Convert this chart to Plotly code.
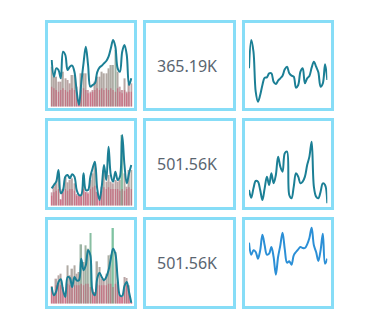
import plotly.graph_objects as go

W, H = 373, 330

# ---------------- data ----------------
idx = list(range(36))

bars_r1 = [120, 90, 90, 75, 75, 105, 85, 80, 70, 95, 95, 60, 10, 100, 100, 100, 50, 45, 50, 75,
           90, 90, 105, 100, 100, 115, 125, 125, 170, 105, 60, 50, 85, 45, 70, 70]
red_r1 = [60, 55, 50, 45, 50, 55, 50, 45, 50, 55, 50, 45, 10, 50, 55, 50, 40, 40, 45, 50,
          55, 50, 55, 50, 55, 50, 55, 50, 45, 55, 45, 40, 50, 40, 45, 45]
line_r1 = [140, 90, 115, 110, 85, 165, 155, 110, 120, 123, 105, 45, 5, 70, 130, 180, 125, 60, 65, 70,
           103, 117, 123, 130, 137, 150, 175, 200, 180, 115, 105, 165, 185, 155, 65, 85]

bars_r2 = [40, 57, 67, 97, 20, 50, 85, 70, 77, 82, 67, 35, 32, 30, 92, 42, 40, 77, 97, 125,
           42, 17, 57, 107, 72, 92, 72, 67, 77, 72, 77, 212, 97, 57, 107, 107]
red_r2 = [30, 40, 45, 50, 17, 40, 50, 45, 50, 50, 45, 30, 30, 28, 50, 40, 35, 50, 55, 60,
          40, 17, 45, 55, 50, 55, 50, 50, 50, 50, 45, 50, 45, 50, 55, 50]
line_r2 = [52, 62, 72, 107, 37, 47, 87, 92, 82, 94, 87, 47, 32, 32, 97, 47, 47, 87, 112, 132,
           52, 17, 57, 122, 77, 177, 92, 72, 102, 77, 87, 212, 122, 67, 97, 122]

bars_r3 = [53, 25, 75, 85, 90, 50, 25, 115, 85, 105, 115, 90, 95, 178, 125, 175, 165, 212, 45, 35,
           127, 110, 75, 75, 90, 145, 147, 227, 155, 65, 25, 20, 80, 77, 55, 5]
red_r3 = [45, 25, 55, 60, 55, 45, 25, 60, 55, 60, 55, 55, 55, 60, 55, 60, 60, 50, 40, 35,
          60, 55, 55, 55, 55, 60, 60, 50, 60, 55, 25, 20, 55, 55, 45, 5]
line_r3 = [50, 25, 37, 65, 73, 40, 20, 80, 77, 50, 80, 70, 70, 135, 100, 115, 160, 145, 35, 25,
           75, 93, 80, 70, 80, 100, 135, 165, 150, 75, 25, 23, 53, 65, 35, 3]

kpi_labels = ["365.19K", "501.56K", "501.56K"]

spark_r1 = [115, 200, 165, 45, 15, 35, 65, 87, 88, 100, 100, 75, 68, 78, 85, 93, 112, 120, 100, 93,
            90, 57, 65, 105, 115, 70, 85, 92, 117, 135, 120, 103, 60, 70, 127, 80]
spark_r2 = [50, 27, 55, 77, 75, 50, 20, 55, 90, 65, 100, 70, 95, 150, 120, 105, 160, 165, 35, 25,
            60, 100, 90, 70, 75, 90, 125, 150, 195, 60, 30, 25, 45, 70, 65, 10]
spark_r3 = [183, 147, 160, 155, 135, 160, 207, 175, 147, 150, 170, 140, 87, 140, 175, 213, 163, 123, 127, 117,
            145, 155, 163, 170, 167, 167, 178, 197, 228, 175, 155, 128, 160, 210, 120, 135]

# ---------------- layout geometry (pixels) ----------------
cols_px = [(45, 137), (143, 236), (242, 334)]
rows_px = [(20, 111), (118, 210), (217, 309)]

BORDER = "#87ddf7"
TEAL = "#1b7f95"
BLUE = "#2b8fd6"

def fx(p):
    return p / W

def fy(p):
    return 1 - p / H

fig = go.Figure()
layout = dict(width=W, height=H, margin=dict(l=0, r=0, t=0, b=0),
              paper_bgcolor="white", plot_bgcolor="rgba(0,0,0,0)",
              showlegend=False, barmode="overlay", bargap=0.35)

bar_sets = [(bars_r1, red_r1, line_r1), (bars_r2, red_r2, line_r2), (bars_r3, red_r3, line_r3)]
spark_sets = [spark_r1, spark_r2, spark_r3]
spark_colors = [TEAL, TEAL, BLUE]

left_params = [(15, 275, 24), (115, 272, 122), (212, 275, 221)]  # origin, base, top px
right_params = [(15, 24, 107), (115, 122, 206), (212, 221, 305)]

scale = [[0, "#c9587a"], [0.4, "#86736c"], [0.7, "#6f7f6c"], [1, "#2f9f68"]]

ax = 1
for r in range(3):
    bars, reds, line = bar_sets[r]
    oy, base, top = left_params[r]
    bot = oy + base / 3.0
    rng = [0, base - 3 * (top - oy)]
    xa = "x" if ax == 1 else f"x{ax}"
    ya = "y" if ax == 1 else f"y{ax}"
    step = (131.3 - 51.67) / 35
    layout["xaxis" if ax == 1 else f"xaxis{ax}"] = dict(
        domain=[fx(51.67 - step / 2), fx(131.3 + step / 2)], range=[-0.5, 35.5],
        visible=False, anchor=ya, fixedrange=True)
    layout["yaxis" if ax == 1 else f"yaxis{ax}"] = dict(
        domain=[fy(bot), fy(top)], range=rng, visible=False, anchor=xa, fixedrange=True)
    fig.add_trace(go.Bar(x=idx, y=bars, xaxis=xa, yaxis=ya,
                         marker=dict(color=bars, colorscale=scale, cmin=0, cmax=230,
                                     line=dict(width=0)),
                         opacity=0.62))
    fig.add_trace(go.Bar(x=idx, y=reds, xaxis=xa, yaxis=ya,
                         marker=dict(color="rgba(205,45,85,0.38)", line=dict(width=0))))
    fig.add_trace(go.Scatter(x=idx, y=line, xaxis=xa, yaxis=ya, mode="lines",
                             line=dict(color=TEAL, width=2, shape="spline", smoothing=1.0),
                             cliponaxis=False))
    ax += 1

    oy, top, bot = right_params[r]
    rng = [275 - 3 * (bot - oy), 275 - 3 * (top - oy)]
    xa = f"x{ax}"
    ya = f"y{ax}"
    layout[f"xaxis{ax}"] = dict(domain=[fx(249), fx(327.3)], range=[0, 35],
                                visible=False, anchor=ya, fixedrange=True)
    layout[f"yaxis{ax}"] = dict(domain=[fy(bot), fy(top)], range=rng,
                                visible=False, anchor=xa, fixedrange=True)
    fig.add_trace(go.Scatter(x=idx, y=spark_sets[r], xaxis=xa, yaxis=ya, mode="lines",
                             line=dict(color=spark_colors[r], width=2, shape="spline", smoothing=1.0),
                             cliponaxis=False))
    ax += 1

shapes = []
for (r0, r1) in rows_px:
    for (c0, c1) in cols_px:
        shapes.append(dict(type="rect", xref="paper", yref="paper",
                           x0=fx(c0 + 1.5), x1=fx(c1 - 1.5), y0=fy(r1 - 1.5), y1=fy(r0 + 1.5),
                           line=dict(color=BORDER, width=3), fillcolor="rgba(0,0,0,0)", layer="above"))
layout["shapes"] = shapes

annotations = []
c0, c1 = cols_px[1]
for r, (r0, r1) in enumerate(rows_px):
    annotations.append(dict(x=fx((c0 + c1) / 2 - 3), y=fy((r0 + r1) / 2), xref="paper", yref="paper",
                            text=kpi_labels[r], showarrow=False,
                            font=dict(family="Noto Sans", size=16, color="#5a6570"),
                            xanchor="center", yanchor="middle"))
layout["annotations"] = annotations

fig.update_layout(**layout)
fig.write_html("out.html")
